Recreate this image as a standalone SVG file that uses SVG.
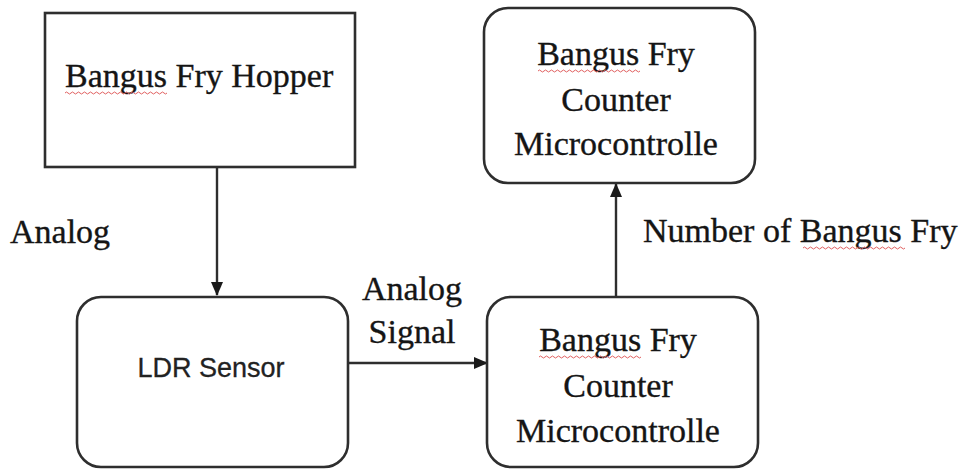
<svg xmlns="http://www.w3.org/2000/svg" width="963" height="472" viewBox="0 0 963 472">
<style>
.box{fill:#fff;stroke:#2e2e2e;stroke-width:2.6}
.t{font-family:"Liberation Serif","Times New Roman",serif;font-size:34px;fill:#151515;stroke:#151515;stroke-width:0.35}
.s{font-family:"Liberation Sans",Arial,sans-serif;font-size:27px;fill:#222;stroke:#222;stroke-width:0.3}
.c{stroke:#2e2e2e;stroke-width:2.4;fill:none}
.sq{stroke:#e06060;stroke-width:1;fill:none}
</style>
<defs>
<marker id="ah" markerWidth="14" markerHeight="14" refX="13" refY="6" orient="auto" markerUnits="userSpaceOnUse" viewBox="0 0 14 12">
<path d="M0,0 L14,6 L0,12 Z" fill="#1a1a1a"/>
</marker>
<path id="wave" d="M0,0 q1.5,-2 3,0 t3,0 t3,0 t3,0 t3,0 t3,0 t3,0 t3,0 t3,0 t3,0 t3,0 t3,0 t3,0 t3,0 t3,0 t3,0 t3,0 t3,0 t3,0 t3,0 t3,0 t3,0 t3,0 t3,0 t3,0 t3,0 t3,0 t3,0 t3,0 t3,0 t3,0 t3,0 t3,0 t3,0"/>
</defs>
<rect width="963" height="472" fill="#fff"/>
<g id="connectors">
<line class="c" x1="217" y1="168" x2="217" y2="295" marker-end="url(#ah)"/>
<line class="c" x1="348" y1="363" x2="487" y2="363" marker-end="url(#ah)"/>
<line class="c" x1="616" y1="297" x2="616" y2="184" marker-end="url(#ah)"/>
</g>
<g id="hopper">
<rect class="box" x="45" y="13" width="310" height="154"/>
<text class="t" x="65" y="87">Bangus Fry Hopper</text>
<use href="#wave" class="sq" transform="translate(65,93)"/>
</g>
<g id="ldr">
<rect class="box" x="77" y="297" width="271" height="170" rx="24"/>
<text class="s" x="211" y="377" text-anchor="middle">LDR Sensor</text>
</g>
<g id="mcu-top">
<rect class="box" x="484" y="8" width="271" height="175" rx="24"/>
<text class="t" x="616" y="65" text-anchor="middle">Bangus Fry</text>
<text class="t" x="616" y="111" text-anchor="middle">Counter</text>
<text class="t" x="616" y="155" text-anchor="middle">Microcontrolle</text>
<use href="#wave" class="sq" transform="translate(538,71)"/>
</g>
<g id="mcu-bottom">
<rect class="box" x="487" y="297" width="271" height="170" rx="24"/>
<text class="t" x="618" y="351" text-anchor="middle">Bangus Fry</text>
<text class="t" x="618" y="397" text-anchor="middle">Counter</text>
<text class="t" x="618" y="442" text-anchor="middle">Microcontrolle</text>
<use href="#wave" class="sq" transform="translate(539,357)"/>
</g>
<g id="labels">
<text class="t" x="10" y="243">Analog</text>
<text class="t" x="412" y="300" text-anchor="middle">Analog</text>
<text class="t" x="412" y="343" text-anchor="middle">Signal</text>
<text class="t" x="643" y="242">Number of Bangus Fry</text>
<use href="#wave" class="sq" transform="translate(803,248)"/>
</g>
</svg>
